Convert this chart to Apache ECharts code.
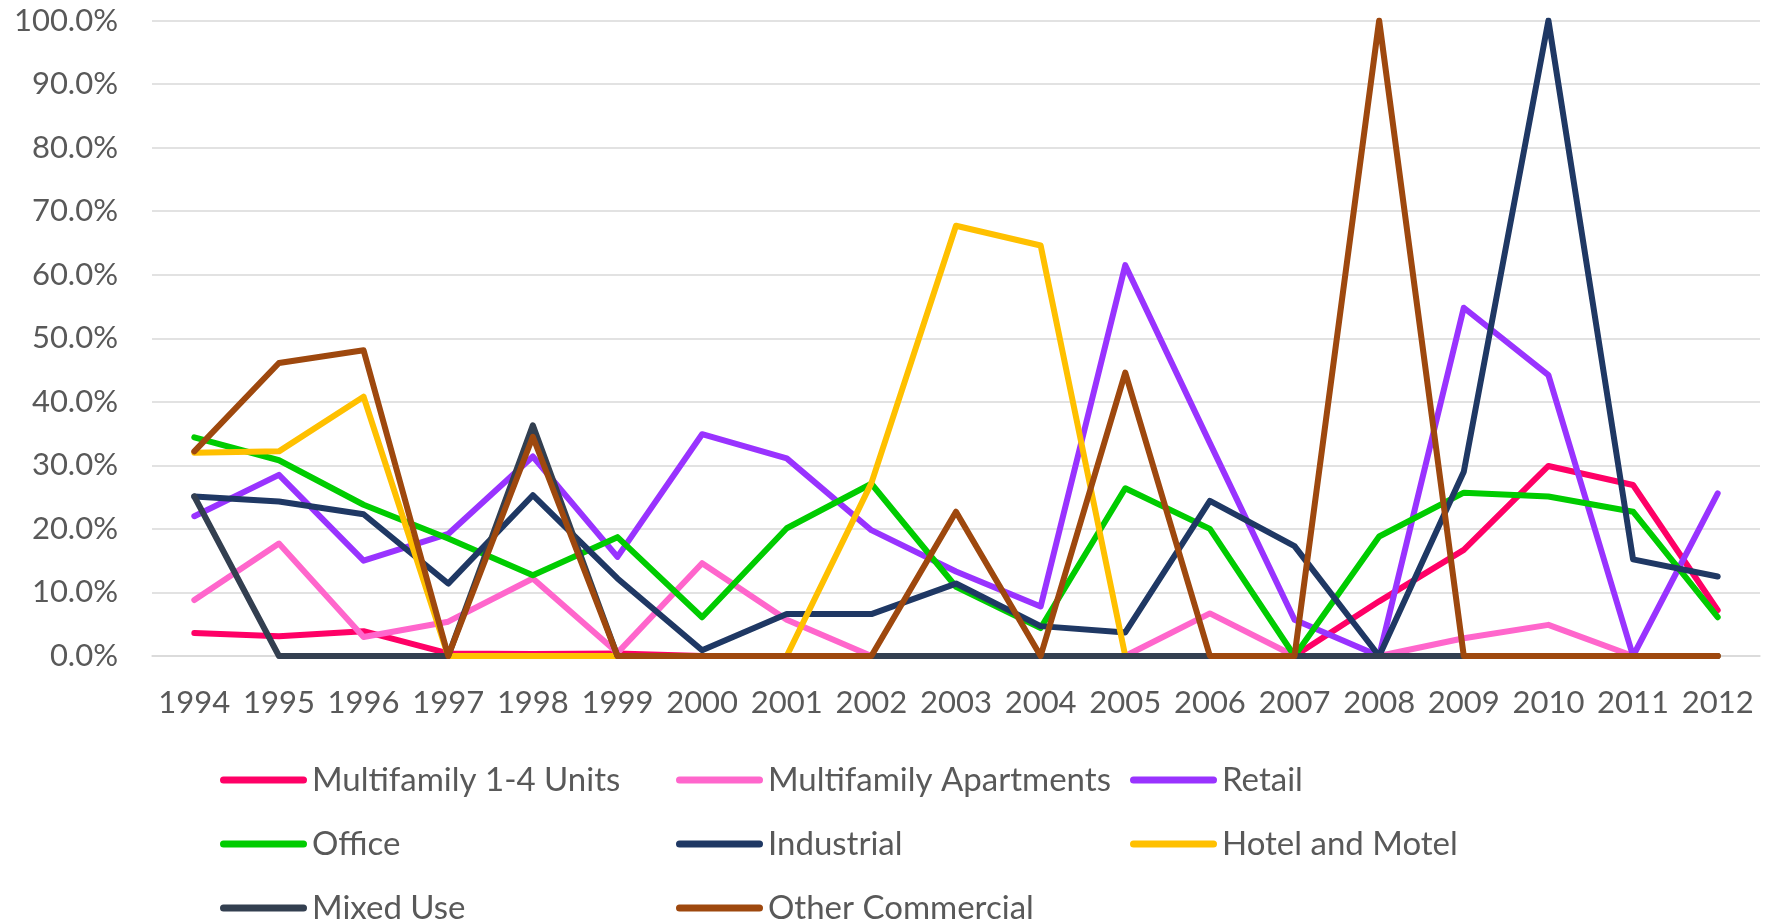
<!DOCTYPE html>
<html>
<head>
<meta charset="utf-8">
<script src="https://cdn.jsdelivr.net/npm/echarts@6/dist/echarts.min.js"></script>
<style>
html,body{margin:0;padding:0;background:#fff;}
#chart{width:1771px;height:924px;}
</style>
</head>
<body>
<div id="chart"></div>
<script>
const years = ['1994','1995','1996','1997','1998','1999','2000','2001','2002','2003','2004','2005','2006','2007','2008','2009','2010','2011','2012'];
const multifamily14 = [3.6, 3.1, 3.9, 0.4, 0.3, 0.4, 0, 0, 0, 0, 0, 0, 0, 0, 8.6, 16.7, 29.9, 26.9, 7.2];
const multifamilyApts = [8.8, 17.7, 3.0, 5.4, 12.2, 0.5, 14.6, 5.7, 0, 0, 0, 0, 6.7, 0, 0, 2.8, 4.9, 0, 0];
const retail = [22.0, 28.5, 15.0, 19.2, 31.4, 15.6, 34.9, 31.1, 19.8, 13.3, 7.8, 61.5, 33.5, 5.7, 0, 54.8, 44.2, 0, 25.6];
const office = [34.4, 30.8, 23.8, 18.5, 12.7, 18.7, 6.1, 20.1, 27.1, 10.9, 4.4, 26.4, 20.0, 0, 18.8, 25.7, 25.1, 22.7, 6.1];
const industrial = [25.1, 24.3, 22.3, 11.4, 25.3, 12.2, 0.9, 6.6, 6.6, 11.4, 4.7, 3.7, 24.4, 17.3, 0, 29.0, 100, 15.2, 12.5];
const hotelMotel = [32.0, 32.2, 40.8, 0, 0, 0, 0, 0, 27.2, 67.7, 64.6, 0, 0, 0, 0, 0, 0, 0, 0];
const mixedUse = [25.1, 0, 0, 0, 36.3, 0, 0, 0, 0, 0, 0, 0, 0, 0, 0, 0, 0, 0, 0];
const otherCommercial = [32.2, 46.1, 48.1, 0, 34.5, 0, 0, 0, 0, 22.7, 0, 44.6, 0, 0, 100, 0, 0, 0, 0];
const yTicks = [0, 10, 20, 30, 40, 50, 60, 70, 80, 90, 100];

const seriesDefs = [
  {name:'Multifamily 1-4 Units', data: multifamily14, color:'#FF0066'},
  {name:'Multifamily Apartments', data: multifamilyApts, color:'#FF66CC'},
  {name:'Retail', data: retail, color:'#9933FF'},
  {name:'Office', data: office, color:'#00CC00'},
  {name:'Industrial', data: industrial, color:'#1F3864'},
  {name:'Hotel and Motel', data: hotelMotel, color:'#FFC000'},
  {name:'Mixed Use', data: mixedUse, color:'#333F50'},
  {name:'Other Commercial', data: otherCommercial, color:'#9E480E'}
];

const FONT = 'Lato';
const TXT = '#595959';
const capsule = 'path://M3.5,0 L83.5,0 A3.5,3.5 0 0 1 83.5,7 L3.5,7 A3.5,3.5 0 0 1 3.5,0 Z';
function legendCol(left, names){
  return {
    orient:'vertical', left:left, top:763, height:300, padding:0,
    icon:capsule, itemWidth:87, itemHeight:7, itemGap:30,
    textStyle:{fontFamily:FONT, fontSize:33, color:TXT, lineHeight:34},
    data:names
  };
}

const chart = echarts.init(document.getElementById('chart'), null, {renderer:'canvas'});
chart.setOption({
  animation:false,
  backgroundColor:'#ffffff',
  grid:{left:152, right:11, top:20.5, bottom:268, containLabel:false},
  legend:[
    legendCol(220, ['Multifamily 1-4 Units','Office','Mixed Use']),
    legendCol(676, ['Multifamily Apartments','Industrial','Other Commercial']),
    legendCol(1130, ['Retail','Hotel and Motel'])
  ],
  xAxis:{
    type:'category', data:years, boundaryGap:true,
    axisLine:{show:true, lineStyle:{color:'#D9D9D9', width:1.5}},
    axisTick:{show:false},
    axisLabel:{fontFamily:FONT, fontSize:31, color:TXT, margin:31, interval:0}
  },
  yAxis:{
    type:'value', min:yTicks[0], max:yTicks[yTicks.length-1], interval:yTicks[1]-yTicks[0],
    axisLine:{show:false}, axisTick:{show:false},
    splitLine:{lineStyle:{color:'#D9D9D9', width:1.5}},
    axisLabel:{fontFamily:FONT, fontSize:31, color:TXT, margin:34, formatter:v=>v.toFixed(1)+'%'}
  },
  series: seriesDefs.map(s=>({
    name:s.name, type:'line', data:s.data, symbol:'none', smooth:false,
    color:s.color,
    lineStyle:{color:s.color, width:6, cap:'round', join:'round'},
    itemStyle:{color:s.color}
  }))
});
</script>
</body>
</html>
